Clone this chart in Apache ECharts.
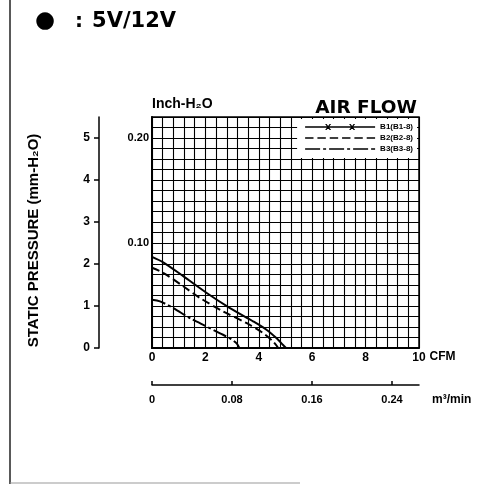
<!DOCTYPE html>
<html><head><meta charset="utf-8">
<script src="https://cdn.jsdelivr.net/npm/echarts@6/dist/echarts.min.js"></script>
<style>html,body{margin:0;padding:0;background:#fff}#c{width:498px;height:485px}</style>
</head><body><div id="c"></div>
<script>
// ---- data ----
const seriesNames = ['B1(B1-8)', 'B2(B2-8)', 'B3(B3-8)'];
const b1Cfm = [0, 0.42, 1.17, 2.05, 2.92, 3.8, 4.3, 4.67, 4.91, 5.02];
const b1Mm  = [2.17, 2.04, 1.71, 1.31, 0.95, 0.63, 0.43, 0.23, 0.07, 0];
const b2Cfm = [0, 0.42, 1.17, 1.8, 2.67, 3.55, 4.17, 4.54, 4.73];
const b2Mm  = [1.91, 1.79, 1.47, 1.19, 0.87, 0.59, 0.35, 0.15, 0];
const b3Cfm = [0, 0.3, 0.8, 1.42, 2.05, 2.55, 2.92, 3.17, 3.27];
const b3Mm  = [1.15, 1.11, 0.95, 0.71, 0.51, 0.35, 0.23, 0.11, 0];
const cfmLabels  = [0, 2, 4, 6, 8, 10];
const m3Labels   = [0, 0.08, 0.16, 0.24];
const mmLabels   = [0, 1, 2, 3, 4, 5];
const inchLabels = [0.10, 0.20];

const F = "'Liberation Sans', Arial, Helvetica, sans-serif";
const FW = "'DejaVu Sans', 'Liberation Sans', sans-serif";
const pairs = (xs, ys) => xs.map((x, i) => [x, ys[i]]);

// legend glyphs (70 px wide line samples)
const iconB1 = 'path://M0,2.2L70,2.2L70,3.8L0,3.8Z' +
  'M20,0L21.5,0L26,6L24.5,6Z M24.5,0L26,0L21.5,6L20,6Z' +
  'M44,0L45.5,0L50,6L48.5,6Z M48.5,0L50,0L45.5,6L44,6Z';
const iconB2 = 'path://M0,0h8.4v1.6h-8.4Z M12.32,0h8.4v1.6h-8.4Z M24.64,0h8.4v1.6h-8.4Z' +
  'M36.96,0h8.4v1.6h-8.4Z M49.28,0h8.4v1.6h-8.4Z M61.6,0h8.4v1.6h-8.4Z';
const iconB3 = 'path://M0,0h15v1.6h-15Z M18,0h3v1.6h-3Z M24,0h15v1.6h-15Z M42,0h3v1.6h-3Z' +
  'M48,0h15v1.6h-15Z M66,0h4v1.6h-4Z';

const chart = echarts.init(document.getElementById('c'), null, {renderer: 'canvas'});
chart.setOption({
  backgroundColor: '#fff',
  animation: false,
  textStyle: {fontFamily: F, color: '#000'},
  title: [
    {
      text: '{d|●}{c|:}{t|5V/12V}',
      left: 30, top: 5,
      textStyle: {
        rich: {
          d: {fontSize: 23, fontFamily: 'DejaVu Sans', color: '#000', padding: [0, 20, 0, 0]},
          c: {fontSize: 20, fontWeight: 'bold', fontFamily: FW, color: '#000', padding: [0, 9, 0, 0]},
          t: {fontSize: 21, fontWeight: 'bold', fontFamily: FW, color: '#000'}
        }
      }
    },
    {
      text: 'AIR FLOW', right: 76, top: 94,
      textStyle: {fontSize: 18.5, fontWeight: 'bold', fontFamily: FW, color: '#000'}
    }
  ],
  legend: {
    data: [
      {name: seriesNames[0], icon: iconB1},
      {name: seriesNames[1], icon: iconB2},
      {name: seriesNames[2], icon: iconB3}
    ],
    orient: 'vertical', right: 81, top: 119,
    backgroundColor: '#fff', borderWidth: 0,
    padding: [4, 4, 5, 8],
    itemWidth: 70, itemHeight: 8, itemGap: 3,
    symbolKeepAspect: true,
    selectedMode: false,
    itemStyle: {color: '#000', borderWidth: 0},
    textStyle: {fontSize: 8, fontWeight: 'bold', fontFamily: F, color: '#000'}
  },
  grid: {left: 152, right: 79, top: 117, bottom: 137, show: true, borderColor: '#000', borderWidth: 1.5},
  xAxis: [
    {
      type: 'value', min: 0, max: 10, interval: 0.4, position: 'bottom',
      name: 'CFM', nameLocation: 'end', nameGap: 10,
      nameTextStyle: {fontSize: 12, fontWeight: 'bold', fontFamily: F, color: '#000', verticalAlign: 'top', lineHeight: 18},
      axisLine: {show: true, onZero: false, lineStyle: {color: '#000', width: 2}},
      axisTick: {show: false},
      splitLine: {show: true, lineStyle: {color: '#000', width: 1.1}},
      axisLabel: {customValues: cfmLabels, margin: 4, fontSize: 12, fontWeight: 'bold', fontFamily: F, color: '#000',
        formatter: v => String(Math.round(v))}
    },
    {
      type: 'value', min: 0, max: 0.267, position: 'bottom', offset: 37,
      name: 'm³/min', nameLocation: 'end', nameGap: 13,
      nameTextStyle: {fontSize: 12, fontWeight: 'bold', fontFamily: F, color: '#000', verticalAlign: 'top', lineHeight: 29},
      axisLine: {show: true, onZero: false, lineStyle: {color: '#000', width: 1.5}},
      axisTick: {show: true, inside: true, length: 4, customValues: m3Labels, lineStyle: {color: '#000', width: 1.5}},
      splitLine: {show: false},
      axisLabel: {customValues: m3Labels, margin: 9, fontSize: 11, fontWeight: 'bold', fontFamily: F, color: '#000',
        formatter: v => (v === 0 ? '0' : v.toFixed(2))}
    }
  ],
  yAxis: [
    {
      type: 'value', min: 0, max: 5.5, position: 'left', offset: 53,
      name: 'STATIC PRESSURE (mm-H₂O)', nameLocation: 'middle', nameRotate: 90, nameGap: 58,
      nameTextStyle: {fontSize: 15, fontWeight: 'bold', fontFamily: F, color: '#000', padding: [0, 16, 0, 0]},
      axisLine: {show: true, onZero: false, lineStyle: {color: '#000', width: 1.5}},
      axisTick: {show: true, inside: false, length: 5, customValues: mmLabels, lineStyle: {color: '#000', width: 1.5}},
      splitLine: {show: false},
      axisLabel: {customValues: mmLabels, margin: 9, fontSize: 12, fontWeight: 'bold', fontFamily: F, color: '#000'}
    },
    {
      type: 'value', min: 0, max: 0.22, interval: 0.01, position: 'left', offset: 0,
      name: 'Inch-H₂O', nameLocation: 'end', nameGap: 6,
      nameTextStyle: {fontSize: 14, fontWeight: 'bold', fontFamily: F, color: '#000', align: 'left'},
      axisLine: {show: true, onZero: false, lineStyle: {color: '#000', width: 2}},
      axisTick: {show: false},
      splitLine: {show: true, lineStyle: {color: '#000', width: 1.1}},
      axisLabel: {customValues: inchLabels, margin: 3, fontSize: 11, fontWeight: 'bold', fontFamily: F, color: '#000',
        formatter: v => v.toFixed(2)}
    }
  ],
  series: [
    {name: seriesNames[0], type: 'line', xAxisIndex: 0, yAxisIndex: 0, data: pairs(b1Cfm, b1Mm),
      smooth: 0.3, showSymbol: false, symbol: 'none', color: '#000',
      lineStyle: {color: '#000', width: 2, type: 'solid'}, z: 5},
    {name: seriesNames[1], type: 'line', xAxisIndex: 0, yAxisIndex: 0, data: pairs(b2Cfm, b2Mm),
      smooth: 0.3, showSymbol: false, symbol: 'none', color: '#000',
      lineStyle: {color: '#000', width: 2, type: [8, 4]}, z: 5},
    {name: seriesNames[2], type: 'line', xAxisIndex: 0, yAxisIndex: 0, data: pairs(b3Cfm, b3Mm),
      smooth: 0.3, showSymbol: false, symbol: 'none', color: '#000',
      lineStyle: {color: '#000', width: 2, type: [14, 3, 3, 3]}, z: 5}
  ],
  graphic: [
    {type: 'line', shape: {x1: 10, y1: 0, x2: 10, y2: 484}, style: {stroke: '#222', lineWidth: 1.5}},
    {type: 'line', shape: {x1: 10, y1: 483, x2: 300, y2: 483}, style: {stroke: '#999', lineWidth: 1}}
  ]
});
</script></body></html>
